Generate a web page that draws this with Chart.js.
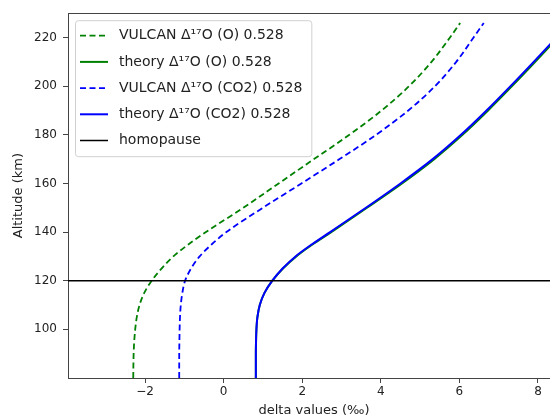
<!DOCTYPE html>
<html>
<head>
<meta charset="utf-8">
<script src="https://cdn.jsdelivr.net/npm/chart.js@4.4.1/dist/chart.umd.min.js"></script>
<style>
  html, body { margin: 0; padding: 0; background: #fff; overflow: hidden; }
  #wrap { width: 580px; height: 420px; }
</style>
</head>
<body>
<div id="wrap"><canvas id="chart" width="580" height="420"></canvas></div>
<script>
// altitude grid (km) shared by all profiles
const altitude = [80, 90, 95, 100, 105, 110, 115, 120, 125, 130, 135, 140, 150, 160, 170, 180, 190, 200, 210, 220, 226];

// delta values (permil)
const vulcanO   = [-2.30, -2.29, -2.275, -2.25, -2.21, -2.14, -2.02, -1.83, -1.58, -1.28, -0.89, -0.45, 0.50, 1.40, 2.30, 3.20, 4.02, 4.72, 5.29, 5.76, 6.02];
const theoryO   = [0.82, 0.82, 0.825, 0.835, 0.86, 0.92, 1.04, 1.24, 1.51, 1.85, 2.27, 2.74, 3.65, 4.54, 5.36, 6.08, 6.73, 7.34, 7.93, 8.51, 8.86];
const vulcanCO2 = [-1.13, -1.13, -1.125, -1.12, -1.11, -1.09, -1.05, -0.98, -0.83, -0.61, -0.30, 0.07, 1.00, 1.98, 2.95, 3.88, 4.70, 5.38, 5.92, 6.36, 6.62];
const theoryCO2 = [0.82, 0.82, 0.825, 0.835, 0.86, 0.92, 1.04, 1.24, 1.50, 1.83, 2.25, 2.71, 3.62, 4.50, 5.32, 6.04, 6.69, 7.30, 7.89, 8.47, 8.82];

const homopauseAlt = 120;
const xTicks = [-2, 0, 2, 4, 6, 8];
const yTicks = [100, 120, 140, 160, 180, 200, 220];

const FONT = 'DejaVu Sans';
const TEXT = '#222';
const AXIS = '#444';

const toPoints = vals => vals.map((v, i) => ({ x: v, y: altitude[i] }));

// framed legend in the upper-left corner of the plot
const boxLegend = {
  id: 'boxLegend',
  afterDatasetsDraw(chart) {
    const ctx = chart.ctx;
    const area = chart.chartArea;
    const sets = chart.data.datasets;
    const left = area.left + 7, top = area.top + 7;
    const rowH = 26.2;
    ctx.save();
    ctx.font = '14px "' + FONT + '"';
    let maxW = 0;
    sets.forEach(d => { maxW = Math.max(maxW, ctx.measureText(d.label).width); });
    const w = 44 + maxW + 9;
    const h = 136;
    ctx.fillStyle = 'rgba(255,255,255,0.85)';
    ctx.strokeStyle = '#d0d0d0';
    ctx.lineWidth = 1;
    ctx.beginPath();
    ctx.roundRect(left + 0.5, top + 0.5, w, h, 3);
    ctx.fill();
    ctx.stroke();
    sets.forEach((d, i) => {
      const cy = top + 15.5 + i * rowH;
      ctx.strokeStyle = d.borderColor;
      ctx.lineWidth = d.borderWidth;
      ctx.setLineDash(d.borderDash || []);
      ctx.beginPath();
      ctx.moveTo(left + 5, cy);
      ctx.lineTo(left + 33, cy);
      ctx.stroke();
      ctx.setLineDash([]);
      ctx.fillStyle = TEXT;
      ctx.textBaseline = 'middle';
      ctx.fillText(d.label, left + 44, cy);
    });
    ctx.restore();
  }
};

const line = (label, vals, color, dashed, order) => ({
  label,
  data: toPoints(vals),
  borderColor: color,
  borderWidth: dashed ? 1.8 : 2,
  borderDash: dashed ? [6, 3.5] : [],
  pointRadius: 0,
  cubicInterpolationMode: 'monotone',
  order
});

new Chart(document.getElementById('chart'), {
  type: 'line',
  data: {
    datasets: [
      line('VULCAN Δ¹⁷O (O) 0.528', vulcanO, '#008000', true, 4),
      line('theory Δ¹⁷O (O) 0.528', theoryO, '#008000', false, 3),
      line('VULCAN Δ¹⁷O (CO2) 0.528', vulcanCO2, '#0000ff', true, 2),
      line('theory Δ¹⁷O (CO2) 0.528', theoryCO2, '#0000ff', false, 1),
      {
        label: 'homopause',
        data: [{ x: -5, y: homopauseAlt }, { x: 10, y: homopauseAlt }],
        borderColor: '#000',
        borderWidth: 1.5,
        pointRadius: 0,
        order: 0
      }
    ]
  },
  options: {
    responsive: false,
    animation: false,
    indexAxis: 'y',
    layout: { padding: { left: 0, right: 20, top: 0, bottom: 0 } },
    plugins: { legend: { display: false }, tooltip: { enabled: false } },
    scales: {
      x: {
        type: 'linear',
        position: 'bottom',
        min: -3.96,
        max: 8.56,
        afterBuildTicks: s => { s.ticks = xTicks.map(v => ({ value: v })); },
        afterFit: s => { s.height = 42; },
        ticks: {
          font: { family: FONT, size: 12 },
          color: TEXT,
          padding: 2,
          callback: v => String(v).replace('-', '\u2212')
        },
        grid: { drawOnChartArea: false, tickLength: 5, tickColor: AXIS },
        border: { color: AXIS, width: 1 },
        title: {
          display: true,
          text: 'delta values (‰)',
          font: { family: FONT, size: 13 },
          color: TEXT,
          padding: { top: 0, bottom: 2 }
        }
      },
      xTop: {
        type: 'linear',
        position: 'top',
        min: -3.96,
        max: 8.56,
        afterFit: s => { s.height = 9; },
        ticks: { display: false },
        grid: { display: false },
        border: { color: AXIS, width: 1 }
      },
      y: {
        type: 'linear',
        min: 80,
        max: 230,
        afterBuildTicks: s => { s.ticks = yTicks.map(v => ({ value: v })); },
        afterFit: s => { s.width = 68; },
        ticks: {
          font: { family: FONT, size: 12 },
          color: TEXT,
          padding: 6
        },
        grid: { drawOnChartArea: false, tickLength: 5, tickColor: AXIS },
        border: { color: AXIS, width: 1 },
        title: {
          display: true,
          text: 'Altitude (km)',
          font: { family: FONT, size: 13 },
          color: TEXT,
          padding: { top: 11, bottom: 0 }
        }
      }
    }
  },
  plugins: [boxLegend]
});
</script>
</body>
</html>
